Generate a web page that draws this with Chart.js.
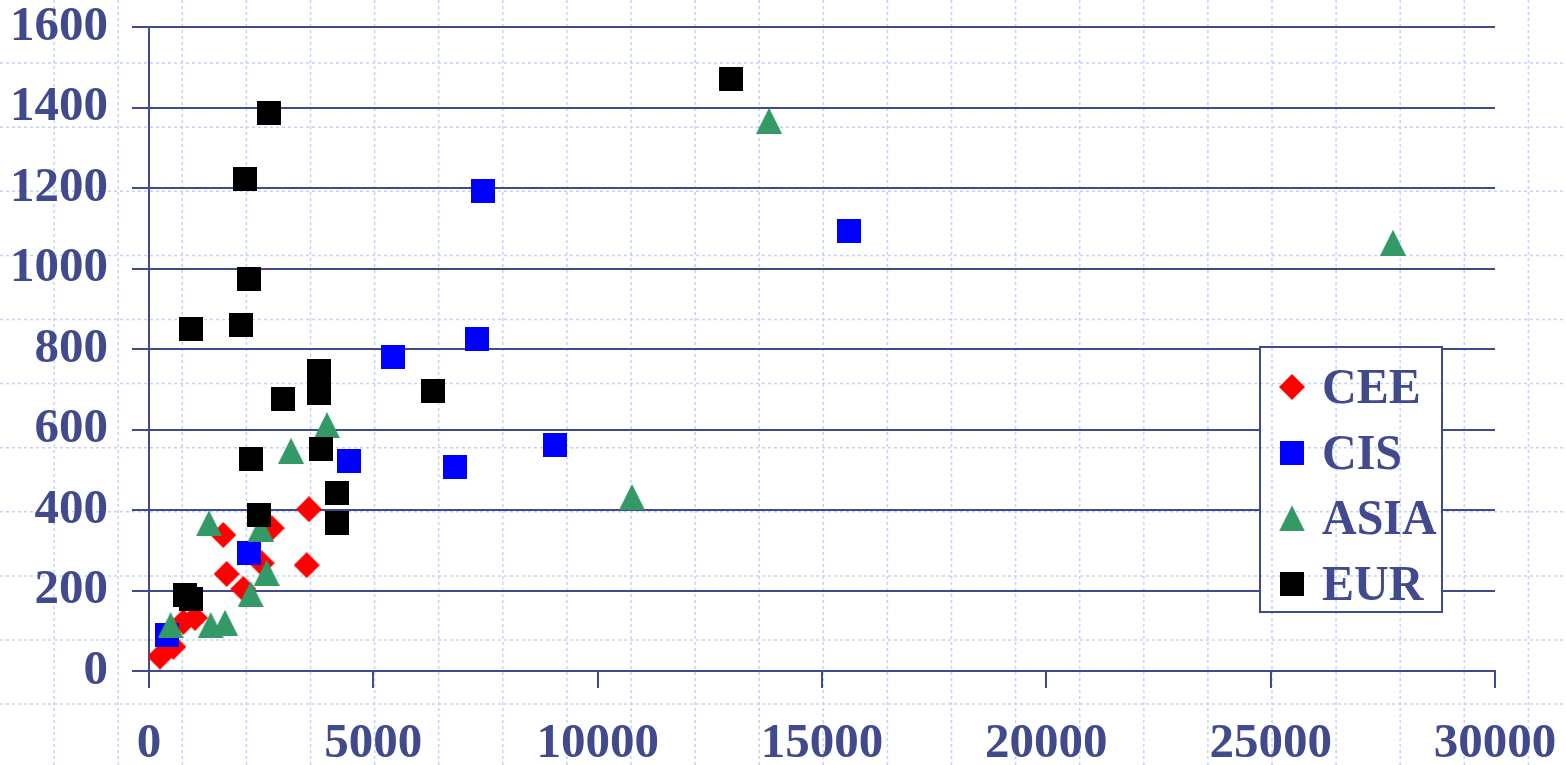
<!DOCTYPE html>
<html>
<head>
<meta charset="utf-8">
<title>CEE / CIS / ASIA / EUR</title>
<script src="https://cdn.jsdelivr.net/npm/chart.js@4.4.1/dist/chart.umd.min.js"></script>
<style>
  html, body { margin: 0; padding: 0; background: #fff; }
  #wrap { width: 1566px; height: 765px; }
</style>
</head>
<body>
<div id="wrap"><canvas id="chart" width="1566" height="765"></canvas></div>
<script>
// Values
const ceeX = [245, 542, 765, 1025, 1656, 1731, 2102, 2511, 2734, 3515, 3566];
const ceeY = [36, 60, 122, 132, 338, 241, 204, 268, 355, 263, 402];

const cisX = [408, 2229, 4458, 5438, 6820, 7310, 7444, 9049, 15602];
const cisY = [89, 294, 522, 780, 508, 825, 1193, 561, 1093];

const asiaX = [483, 1375, 1694, 1337, 2266, 2489, 2623, 3165, 3967, 10765, 13819, 27726];
const asiaY = [114, 114, 120, 367, 191, 354, 244, 547, 611, 432, 1367, 1064];

const eurX = [802, 936, 936, 2050, 2140, 2229, 2675, 2273, 2452, 2987, 3789, 3789, 3834, 4190, 4183, 6330, 12972];
const eurY = [189, 179, 850, 860, 1222, 974, 1387, 527, 388, 676, 745, 691, 552, 442, 368, 696, 1471];

const xTicks = [0, 5000, 10000, 15000, 20000, 25000, 30000];
const yTicks = [0, 200, 400, 600, 800, 1000, 1200, 1400, 1600];

const seriesNames = ["CEE", "CIS", "ASIA", "EUR"];

const ink = "#404a8c";
const serif = "'Liberation Serif', 'Times New Roman', serif";

// ===== Marker images =====

function makeMarker(shape, color) {
  const size = shape === "rect" ? 24 : 26;
  const c = document.createElement("canvas");
  c.width = size;
  c.height = size;
  const g = c.getContext("2d");
  g.fillStyle = color;
  g.beginPath();
  if (shape === "rect") {
    g.rect(0, 0, size, size);
  } else if (shape === "diamond") {
    g.moveTo(size / 2, 0);
    g.lineTo(size, size / 2);
    g.lineTo(size / 2, size);
    g.lineTo(0, size / 2);
    g.closePath();
  } else {
    g.moveTo(size / 2, 0);
    g.lineTo(size, size);
    g.lineTo(0, size);
    g.closePath();
  }
  g.fill();
  return c;
}

function toPoints(xs, ys) {
  return xs.map((x, i) => ({ x: x, y: ys[i] }));
}

// ===== Background dotted paper =====

function drawDots(ctx, x0, y0, w, h) {
  ctx.save();
  ctx.beginPath();
  ctx.rect(x0, y0, w, h);
  ctx.clip();
  ctx.strokeStyle = "#c4d2fa";
  ctx.lineWidth = 1.5;
  ctx.setLineDash([3, 3]);
  ctx.beginPath();
  for (let x = -10; x < 1600; x += 64.1) {
    ctx.moveTo(x, 0);
    ctx.lineTo(x, 765);
  }
  for (let y = -1; y < 800; y += 64.1) {
    ctx.moveTo(0, y);
    ctx.lineTo(1566, y);
  }
  ctx.stroke();
  ctx.restore();
}

const paperPlugin = {
  id: "paper",
  beforeDraw(chart) {
    const { ctx, width, height } = chart;
    ctx.save();
    ctx.fillStyle = "#fff";
    ctx.fillRect(0, 0, width, height);
    ctx.restore();
    drawDots(ctx, 0, 0, width, height);
  }
};

// Boxed legend sitting inside the plot, right side
const boxLegendPlugin = {
  id: "boxLegend",
  afterDraw(chart) {
    const ctx = chart.ctx;
    const bx = 1260, by = 347, bw = 182, bh = 265;
    ctx.save();
    ctx.fillStyle = "#fff";
    ctx.fillRect(bx, by, bw, bh);
    drawDots(ctx, bx, by, bw, bh);
    ctx.strokeStyle = ink;
    ctx.lineWidth = 2;
    ctx.strokeRect(bx, by, bw, bh);

    ctx.fillStyle = ink;
    ctx.font = "bold 48px " + serif;
    ctx.textAlign = "left";
    ctx.textBaseline = "alphabetic";
    chart.data.datasets.forEach((ds, i) => {
      const base = 403 + i * 65.7;
      const img = ds.pointStyle;
      ctx.drawImage(img, 1292 - img.width / 2, base - 16 - img.height / 2);
      // text in the picture is a little taller than wide
      ctx.save();
      ctx.translate(1322, base);
      ctx.scale(1, 1.07);
      ctx.fillText(ds.label, 0, 0);
      ctx.restore();
    });
    ctx.restore();
  }
};

const tickFont = { family: serif, size: 49, weight: "bold", lineHeight: 1 };

new Chart(document.getElementById("chart"), {
  type: "scatter",
  data: {
    datasets: [
      { label: seriesNames[0], data: toPoints(ceeX, ceeY), pointStyle: makeMarker("diamond", "#ff0000"), order: 3 },
      { label: seriesNames[1], data: toPoints(cisX, cisY), pointStyle: makeMarker("rect", "#0000ff"), order: 2 },
      { label: seriesNames[2], data: toPoints(asiaX, asiaY), pointStyle: makeMarker("triangle", "#339966"), order: 1 },
      { label: seriesNames[3], data: toPoints(eurX, eurY), pointStyle: makeMarker("rect", "#000000"), order: 0 }
    ]
  },
  options: {
    responsive: false,
    animation: false,
    devicePixelRatio: 1,
    layout: { padding: { left: 0, top: 27, right: 71, bottom: 0 } },
    elements: { point: { radius: 13, hoverRadius: 13 } },
    plugins: {
      legend: { display: false },
      tooltip: { enabled: false }
    },
    scales: {
      x: {
        type: "linear",
        min: xTicks[0],
        max: xTicks[xTicks.length - 1],
        afterFit: (s) => {
          s.height = 94;
          s.paddingLeft = 0;
          s.paddingRight = 0;
        },
        afterBuildTicks: (s) => { s.ticks = xTicks.map((v) => ({ value: v })); },
        ticks: {
          color: ink,
          font: tickFont,
          padding: 32,
          maxRotation: 0,
          autoSkip: false,
          callback: (v) => String(v)
        },
        grid: { drawOnChartArea: false, drawTicks: true, tickLength: 17, color: ink, lineWidth: 2 },
        border: { color: ink, width: 2 }
      },
      y: {
        type: "linear",
        min: yTicks[0],
        max: yTicks[yTicks.length - 1],
        afterFit: (s) => {
          s.width = 149;
          s.paddingTop = 0;
          s.paddingBottom = 0;
        },
        afterBuildTicks: (s) => { s.ticks = yTicks.map((v) => ({ value: v })); },
        ticks: {
          color: ink,
          font: tickFont,
          padding: 24,
          autoSkip: false,
          callback: (v) => String(v)
        },
        grid: { drawTicks: true, tickLength: 17, color: ink, lineWidth: 2 },
        border: { color: ink, width: 2 }
      }
    }
  },
  plugins: [paperPlugin, boxLegendPlugin]
});
</script>
</body>
</html>
